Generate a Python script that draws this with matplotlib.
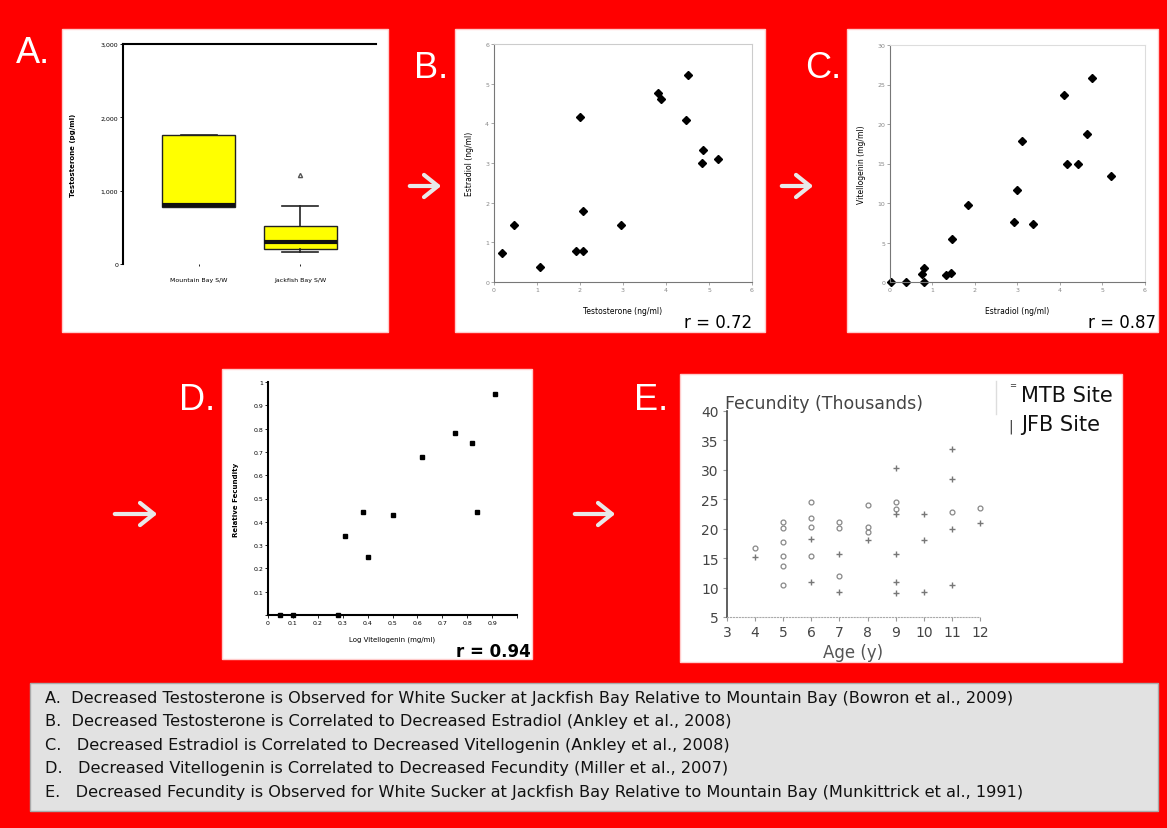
import numpy as np
import matplotlib.pyplot as plt
from matplotlib.patches import Rectangle, FancyArrowPatch

W, H = 1167, 829

# ---- data ----
# A: testosterone box plot (pg/ml)
a_sites = ["Mountain Bay S/W", "Jackfish Bay S/W"]
a_q1 = [780, 200]
a_med = [810, 296]
a_q3 = [1763, 525]
a_low = [780, 160]
a_high = [1763, 794]
a_fliers = [[], [1210]]

# B: testosterone vs estradiol (ng/ml)
b_testo = [0.19, 0.46, 1.08, 1.90, 2.06, 2.00, 2.06, 2.95, 3.82, 3.89, 4.51, 4.47, 4.87, 4.83, 5.21]
b_estra = [0.74, 1.44, 0.37, 0.79, 0.79, 4.17, 1.80, 1.43, 4.76, 4.61, 5.22, 4.09, 3.34, 3.00, 3.09]

# C: estradiol vs vitellogenin
c_estra = [0.02, 0.38, 0.80, 0.75, 0.80, 1.32, 1.44, 1.45, 1.83, 2.92, 3.00, 3.10, 3.36, 4.10, 4.16, 4.43, 4.63, 4.76, 5.20]
c_vtg = [0, 0, 0, 0.97, 1.76, 0.84, 1.13, 5.5, 9.8, 7.6, 11.6, 17.9, 7.4, 23.7, 15.0, 15.0, 18.7, 25.8, 13.4]

# D: vitellogenin vs fecundity
d_vtg = [0.05, 0.10, 0.28, 0.31, 0.38, 0.40, 0.50, 0.62, 0.75, 0.82, 0.84, 0.91]
d_fec = [0, 0, 0, 0.34, 0.44, 0.25, 0.43, 0.68, 0.78, 0.74, 0.44, 0.95]

# E: fecundity (thousands) by age
mtb_age = [4, 5, 5, 5, 5, 5, 5, 6, 6, 6, 6, 7, 7, 7, 8, 8, 8, 9, 9, 11, 12]
mtb_fec = [16.7, 21.1, 20.1, 17.8, 15.4, 13.7, 10.4, 24.5, 21.8, 20.3, 15.3, 21.1, 20.1, 11.9,
           24.0, 20.3, 19.5, 24.5, 23.3, 22.8, 23.6]
jfb_age = [4, 6, 6, 7, 7, 8, 9, 9, 9, 9, 9, 10, 10, 10, 11, 11, 11, 11, 12]
jfb_fec = [15.2, 18.3, 10.9, 15.7, 9.2, 18.0, 30.4, 22.5, 15.7, 10.9, 9.0, 22.5, 18.0, 9.2,
           33.5, 28.4, 19.9, 10.4, 20.9]

captions = [
    "A.  Decreased Testosterone is Observed for White Sucker at Jackfish Bay Relative to Mountain Bay (Bowron et al., 2009)",
    "B.  Decreased Testosterone is Correlated to Decreased Estradiol (Ankley et al., 2008)",
    "C.   Decreased Estradiol is Correlated to Decreased Vitellogenin (Ankley et al., 2008)",
    "D.   Decreased Vitellogenin is Correlated to Decreased Fecundity (Miller et al., 2007)",
    "E.   Decreased Fecundity is Observed for White Sucker at Jackfish Bay Relative to Mountain Bay (Munkittrick et al., 1991)",
]


def rect(x0, y0, x1, y1):
    return [x0 / W, 1 - y1 / H, (x1 - x0) / W, (y1 - y0) / H]


def fx(x):
    return x / W


def fy(y):
    return 1 - y / H


fig = plt.figure(figsize=(W / 100, H / 100), dpi=100, facecolor='#ff0000')

# white panels
for x0, y0, x1, y1 in [(62, 30, 388, 333), (455, 30, 765, 333), (847, 30, 1158, 333),
                       (222, 370, 532, 660), (680, 375, 1122, 663)]:
    fig.add_artist(Rectangle((fx(x0), fy(y1)), (x1 - x0) / W, (y1 - y0) / H,
                             transform=fig.transFigure, facecolor='white',
                             edgecolor='#ffcccc', lw=1, zorder=0))

# panel letters
for lab, x, y in [("A.", 16, 63), ("B.", 414, 78), ("C.", 805, 78), ("D.", 179, 410), ("E.", 634, 410)]:
    fig.text(fx(x), fy(y), lab, color='white', fontsize=26, family='Liberation Sans',
             va='baseline', ha='left')

# arrows
for x0, x1, y in [(407, 444, 187), (779, 816, 187), (112, 160, 515), (572, 618, 515)]:
    fig.add_artist(FancyArrowPatch((fx(x0), fy(y)), (fx(x1), fy(y)), transform=fig.transFigure,
                                   arrowstyle='->,head_length=5,head_width=4', lw=3,
                                   color='#e8e8e8', mutation_scale=2))

tick_kw = dict(labelsize=4.5, length=2, width=0.6, pad=1.5)

# ---- A ----
axA = fig.add_axes(rect(123, 45, 376, 265))
stats = []
for i in range(2):
    stats.append(dict(med=a_med[i], q1=a_q1[i], q3=a_q3[i], whislo=a_low[i],
                      whishi=a_high[i], fliers=a_fliers[i]))
axA.bxp(stats, positions=[1, 2], widths=0.72, patch_artist=True, showcaps=True,
        boxprops=dict(facecolor='#ffff00', edgecolor='#222222', lw=1),
        medianprops=dict(color='#111111', lw=3),
        whiskerprops=dict(color='#222222', lw=1.2),
        capprops=dict(color='#222222', lw=1.2),
        flierprops=dict(marker='^', markersize=3, markerfacecolor='white', markeredgecolor='#555555'))
axA.set_xlim(0.25, 2.75)
axA.set_ylim(0, 3000)
axA.set_yticks([0, 1000, 2000, 3000])
axA.set_yticklabels(["0", "1,000", "2,000", "3,000"])
axA.set_xticks([1, 2])
axA.set_xticklabels(a_sites)
axA.tick_params(axis='both', **tick_kw)
axA.tick_params(axis='x', length=1.5, pad=8)
for s in ['right', 'bottom']:
    axA.spines[s].set_visible(False)
axA.spines['left'].set_linewidth(1.5)
axA.spines['top'].set_linewidth(1.5)
axA.set_ylabel("Testosterone (pg/ml)", fontsize=5, fontweight='bold', labelpad=18)

# ---- B ----
axB = fig.add_axes(rect(494, 45, 752, 283))
axB.plot(b_testo, b_estra, 'D', color='black', ms=4, clip_on=False)
axB.set_xlim(0, 6)
axB.set_ylim(0, 6)
axB.set_xticks(range(7))
axB.set_yticks(range(7))
axB.tick_params(axis='both', colors='#999999', labelcolor='#888888', **tick_kw)
for s in ['left', 'bottom']:
    axB.spines[s].set_color('#777777')
for s in ['right', 'top']:
    axB.spines[s].set_color('#cccccc')
axB.set_xlabel("Testosterone (ng/ml)", fontsize=5.5, labelpad=10)
axB.set_ylabel("Estradiol (ng/ml)", fontsize=5.5, labelpad=8)
fig.text(fx(752), fy(328), "r = 0.72", fontsize=12, ha='right', va='baseline')

# ---- C ----
axC = fig.add_axes(rect(890, 46, 1145, 283))
axC.plot(c_estra, c_vtg, 'D', color='black', ms=4, clip_on=False)
axC.set_xlim(0, 6)
axC.set_ylim(0, 30)
axC.set_xticks(range(7))
axC.set_yticks(range(0, 31, 5))
axC.tick_params(axis='both', colors='#999999', labelcolor='#888888', **tick_kw)
for s in ['left', 'bottom']:
    axC.spines[s].set_color('#777777')
for s in ['right', 'top']:
    axC.spines[s].set_color('#dddddd')
axC.set_xlabel("Estradiol (ng/ml)", fontsize=5.5, labelpad=10)
axC.set_ylabel("Vitellogenin (mg/ml)", fontsize=5.5, labelpad=8)
fig.text(fx(1156), fy(328), "r = 0.87", fontsize=12, ha='right', va='baseline')

# ---- D ----
axD = fig.add_axes(rect(268, 383, 517, 616))
axD.plot(d_vtg, d_fec, 's', color='black', ms=3, clip_on=False)
axD.set_xlim(0, 1)
axD.set_ylim(0, 1)
axD.set_xticks(np.arange(0, 1.01, 0.1))
axD.set_xticklabels(["0", "0.1", "0.2", "0.3", "0.4", "0.5", "0.6", "0.7", "0.8", "0.9", ""])
axD.set_yticks(np.arange(0, 1.01, 0.1))
axD.set_yticklabels(["", "0.1", "0.2", "0.3", "0.4", "0.5", "0.6", "0.7", "0.8", "0.9", "1"])
axD.tick_params(axis='both', **tick_kw)
for s in ['right', 'top']:
    axD.spines[s].set_visible(False)
for s in ['left', 'bottom']:
    axD.spines[s].set_linewidth(1.5)
axD.set_xlabel("Log Vitellogenin (mg/ml)", fontsize=5, labelpad=8)
axD.set_ylabel("Relative Fecundity", fontsize=5, fontweight='bold', labelpad=10)
fig.text(fx(531), fy(657), "r = 0.94", fontsize=12, ha='right', va='baseline', fontweight='bold')

# ---- E ----
axE = fig.add_axes(rect(727, 412, 980, 618))
axE.plot(mtb_age, mtb_fec, 'o', ms=3.5, mfc='none', mec='#888888', mew=0.9, clip_on=False)
axE.plot(jfb_age, jfb_fec, '+', ms=5, color='#777777', mew=1, clip_on=False)
axE.set_xlim(3, 12)
axE.set_ylim(5, 40)
axE.set_xticks(range(3, 13))
axE.set_yticks(range(5, 41, 5))
axE.tick_params(axis='both', labelsize=10, colors='#999999', labelcolor='#444444', length=3, pad=3)
for s in ['right', 'top']:
    axE.spines[s].set_visible(False)
axE.spines['left'].set_color('#444444')
axE.spines['left'].set_linewidth(1.2)
axE.spines['bottom'].set_color('#aaaaaa')
axE.spines['bottom'].set_linestyle(':')
axE.set_xlabel("Age (y)", fontsize=12, color='#555555', labelpad=3)
fig.text(fx(725), fy(409), "Fecundity (Thousands)", fontsize=12.5, color='#444444', va='baseline')
fig.add_artist(plt.Line2D([fx(996), fx(996)], [fy(382), fy(415)], transform=fig.transFigure,
                          color='#dddddd', lw=1))
fig.text(fx(1009), fy(388), "=", fontsize=6, color='#333333', va='baseline')
fig.text(fx(1021), fy(402), "MTB Site", fontsize=15, color='#111111', va='baseline')
fig.text(fx(1008), fy(431), "|", fontsize=10, color='#333333', va='baseline')
fig.text(fx(1021), fy(431), "JFB Site", fontsize=15, color='#111111', va='baseline')

# ---- caption box ----
fig.add_artist(Rectangle((fx(30), fy(812)), (1158 - 30) / W, (812 - 684) / H,
                         transform=fig.transFigure, facecolor='#e2e2e2',
                         edgecolor='#aaaaaa', lw=1, zorder=0))
cap_texts = []
for i, line in enumerate(captions):
    t = fig.text(fx(45), fy(703 + 23.5 * i), line, fontsize=12,
                 family=['Liberation Sans Narrow', 'DejaVu Sans'], va='baseline', color='#111111')
    cap_texts.append(t)

# scale caption font so line A spans about the same width as the reference
fig.canvas.draw()
r = fig.canvas.get_renderer()
w0 = cap_texts[0].get_window_extent(r).width
for t in cap_texts:
    t.set_fontsize(12 * 963 / w0)

fig.savefig("out.png", dpi=100, facecolor=fig.get_facecolor())
